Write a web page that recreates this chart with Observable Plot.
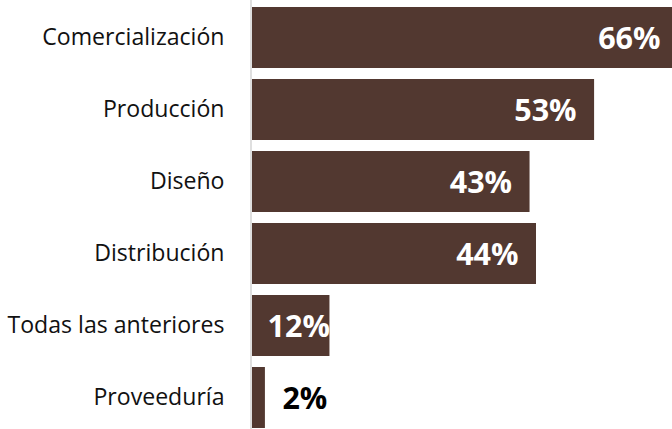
<!DOCTYPE html>
<html>
<head>
<meta charset="utf-8">
<script src="https://cdn.jsdelivr.net/npm/d3@7"></script>
<script src="https://cdn.jsdelivr.net/npm/@observablehq/plot@0.6"></script>
<style>
  html, body { margin: 0; padding: 0; background: #fff; overflow: hidden; }
  #chart svg { overflow: hidden; display: block; }
</style>
</head>
<body>
<div id="chart"></div>
<script>
const categories = ["Comercialización", "Producción", "Diseño", "Distribución", "Todas las anteriores", "Proveeduría"];
const values = [0.66, 0.53, 0.43, 0.44, 0.12, 0.02];

const data = categories.map((c, i) => ({cat: c, value: values[i]}));
const fmt = d3.format(".0%");
const barColor = "#523830";
const font = "'Open Sans', 'Liberation Sans', sans-serif";

const inside = data.filter(d => d.value >= 0.3);
const atEnd = data.filter(d => d.value >= 0.05 && d.value < 0.3);
const outside = data.filter(d => d.value < 0.05);

const chart = Plot.plot({
  width: 672,
  height: 429,
  marginLeft: 252,
  marginRight: 0,
  marginTop: 0,
  marginBottom: 0,
  style: {fontFamily: font, background: "#fff", overflow: "hidden"},
  x: {domain: [0, 0.66], range: [252, 678], axis: null},
  y: {domain: categories, range: [1.5, 433.5], paddingInner: 0.153, paddingOuter: 0.0765, round: false, label: null},
  marks: [
    Plot.barX(data, {x: "value", y: "cat", fill: barColor}),
    Plot.ruleX([0], {dx: -1.5, stroke: "#d4d4d4", strokeWidth: 1.5}),
    Plot.axisY({tickSize: 0, tickPadding: 28, fontSize: 23.1, fill: "#111", label: null}),
    Plot.text(inside, {x: "value", y: "cat", text: d => fmt(d.value), textAnchor: "end", dx: -18, dy: 1.5,
      fill: "white", fontWeight: "bold", fontSize: 30.5}),
    Plot.text(atEnd, {x: "value", y: "cat", text: d => fmt(d.value), textAnchor: "end", dx: 0, dy: 1.5,
      fill: "white", fontWeight: "bold", fontSize: 30.5}),
    Plot.text(outside, {x: "value", y: "cat", text: d => fmt(d.value), textAnchor: "start", dx: 17, dy: 1.5,
      fill: "black", fontWeight: "bold", fontSize: 30.5})
  ]
});
document.getElementById("chart").appendChild(chart);
</script>
</body>
</html>
